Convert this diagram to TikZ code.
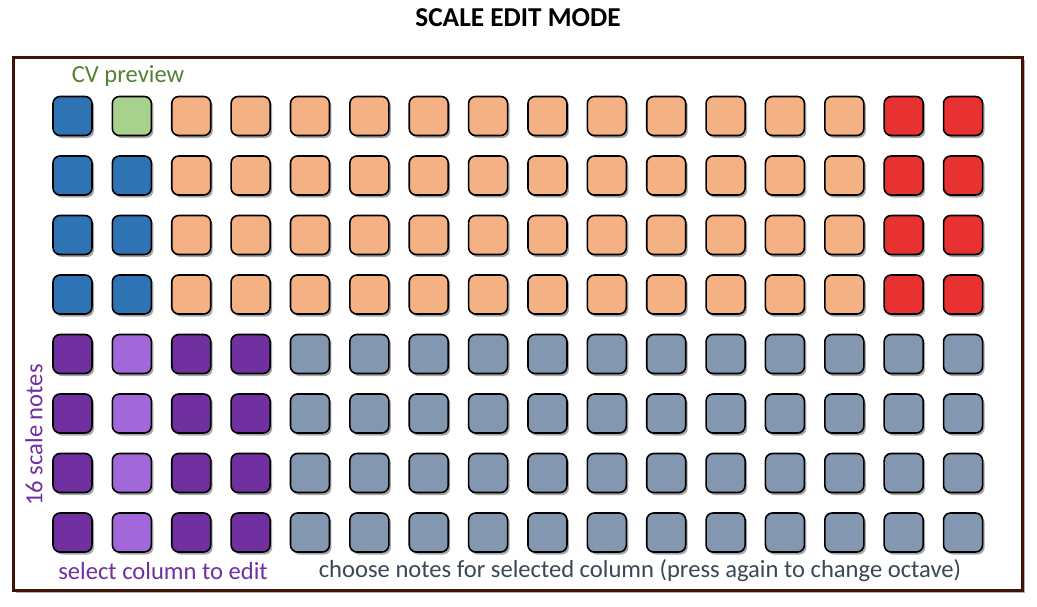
\documentclass[tikz,border=0pt]{standalone}
\usepackage{fontspec}
\setmainfont{Carlito}
\usetikzlibrary{shadows}

\definecolor{framebrown}{HTML}{3F1208}
\definecolor{padblue}{HTML}{2E74B5}
\definecolor{padgreen}{HTML}{A9D18E}
\definecolor{padorange}{HTML}{F4B183}
\definecolor{padred}{HTML}{E83232}
\definecolor{paddpurple}{HTML}{7030A0}
\definecolor{padlpurple}{HTML}{A268DA}
\definecolor{padgray}{HTML}{8497B0}
\definecolor{cvgreen}{HTML}{548235}
\definecolor{notetext}{HTML}{3B4756}

\begin{document}
\begin{tikzpicture}[x=1pt, y=-1pt,
    pad/.style={draw=black, line width=1.6pt, rounded corners=7pt, minimum size=39pt, inner sep=0pt,
        drop shadow={shadow xshift=2pt, shadow yshift=-2.5pt, opacity=0.35, fill=black}},
    lbl/.style={font=\fontsize{24.6}{28}\selectfont, inner sep=0pt}]
        \useasboundingbox (0,0) rectangle (1037,606);

        % Titre
        \node[font=\fontsize{27.3}{31}\selectfont\bfseries] (title) at (518,18) {SCALE EDIT MODE};

        % Cadre
        \draw[framebrown, line width=3pt, fill=white, drop shadow={shadow xshift=3pt, shadow yshift=-3pt, opacity=0.3, fill=black}] (13,57) rectangle (1022,590);

        % Rangees du haut : preview CV et octaves
        \node[pad, fill=padgreen] (p-1-2) at (72.5+59.37,116) {};
        \foreach \r in {1,...,4} {
            \node[pad, fill=padblue] (p-\r-1) at (72.5,116+59.5*\r-59.5) {};
            \foreach \c in {3,...,14}
                \node[pad, fill=padorange] (p-\r-\c) at (72.5+59.37*\c-59.37,116+59.5*\r-59.5) {};
            \foreach \c in {15,16}
                \node[pad, fill=padred] (p-\r-\c) at (72.5+59.37*\c-59.37,116+59.5*\r-59.5) {};
        }
        \foreach \r in {2,...,4}
            \node[pad, fill=padblue] (p-\r-2) at (72.5+59.37,116+59.5*\r-59.5) {};

        % Rangees du bas : colonnes et notes
        \foreach \r in {5,...,8} {
            \foreach \c in {1,3,4}
                \node[pad, fill=paddpurple] (p-\r-\c) at (72.5+59.37*\c-59.37,116+59.5*\r-59.5) {};
            \node[pad, fill=padlpurple] (p-\r-2) at (72.5+59.37,116+59.5*\r-59.5) {};
            \foreach \c in {5,...,16}
                \node[pad, fill=padgray] (p-\r-\c) at (72.5+59.37*\c-59.37,116+59.5*\r-59.5) {};
        }

        % Legendes
        \node[lbl, cvgreen] (cv) at (128,76) {CV preview};
        \node[lbl, paddpurple, rotate=90] (scale) at (34,435) {16 scale notes};
        \node[lbl, paddpurple] (select) at (163,571) {select column to edit};
        \node[lbl, notetext] (choose) at (640,571) {choose notes for selected column (press again to change octave)};
    \end{tikzpicture}
\end{document}
